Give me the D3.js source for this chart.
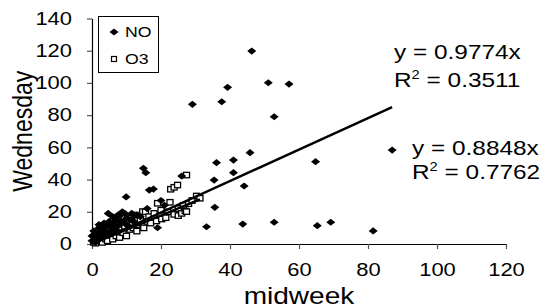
<!DOCTYPE html>
<html>
<head>
<meta charset="utf-8">
<script src="https://cdn.jsdelivr.net/npm/d3@7"></script>
<style>
  body { margin: 0; background: #fff; }
  text { font-family: "Liberation Sans", Arial, sans-serif; fill: #000; }
</style>
</head>
<body>
<div id="chart"></div>
<script>
// NO readings: [midweek, Wednesday]
var noPoints = [
  [0,2],[0,5],[0.5,8],[1,1],[1,4],[1.5,6],[2,10],[2,3],[2.5,7],[3,11],[3,5],[3.5,9],
  [4,8],[4.7,19],[4.5,12],[5,6],[5,14],[5.5,10],[6,13],[6,17],[6.5,8],[7,15],[7,11],
  [7.5,18],[8.1,17.6],[8,12],[8.5,14],[9.7,18.7],[9.5,13],[9.9,29.2],[10,16],[10.5,11],
  [11,15],[12.2,17.6],[12,14],[13,18],[14,17],[14.9,47],[15.6,44.3],[16,22],[16.6,33.5],
  [17.8,34.1],[19,10.1],[20,27],[21,24],[26,42.2],[29.1,86.7],[33.2,10.7],[35.4,39.7],
  [35.6,22.8],[36.1,50.5],[37.6,88.3],[39.3,97.3],[41,52.1],[41,44.3],[43.7,12.4],
  [44.1,36],[45.8,56.7],[46.3,119.8],[51.1,100.1],[52.8,79],[52.8,13.5],[57.1,99.3],
  [64.8,51.1],[65.3,11.4],[69.2,13.5],[81.5,8.1],[87,58.3],
  [2,12],[3.5,13],[6.5,16],[8.8,20],[11.5,19],[7,9],[4,6]
];

// O3 readings: [midweek, Wednesday]
var o3Points = [
  [0.5,1],[1,0.5],[1,3],[1.5,5],[2,2],[2,7],[2.5,4],[3,1],[3,9],[3.5,6],[4,3],[4.5,2],
  [5,6],[5,10],[6,4],[6,3],[6.5,8],[7,12],[7,5],[8,4],[8,9],[8.5,13],[9,7],[9.5,11],
  [10,5],[10,14],[11,9],[11.5,16],[12,10],[12.5,18],[13,12],[13,8],[14,15],[14.7,20.1],
  [15,10],[15.5,20],[16,14],[16.5,17],[17,13],[18,19],[18.7,14.3],[19,25.3],[20.2,15.5],
  [20,21],[21.4,16.3],[22,20],[22.6,25.9],[22.8,34],[23.8,35.2],[24.8,36.6],[23.8,18.4],
  [25,17.6],[25,22],[26,19],[26.5,24],[27,20.5],[27.4,42.8],[28,25],[29,27],[30.3,29.8],
  [31.3,28.4],[27.4,20.1]
];

var xTicks = [0, 20, 40, 60, 80, 100, 120];
var yTicks = [0, 20, 40, 60, 80, 100, 120, 140];

// trendlines forced through origin
var trends = [
  { name: "NO", slope: 0.9774, r2: "0.3511", xMax: 87 },
  { name: "O3", slope: 0.8848, r2: "0.7762", xMax: 31.3 }
];

var W = 544, H = 308;
var stretch = 1.22; // text in the original is a bit wide

var svg = d3.select("#chart").append("svg")
    .attr("width", W)
    .attr("height", H);

var x = d3.scaleLinear().domain([0, 120]).range([92, 506]);
var y = d3.scaleLinear().domain([0, 140]).range([244, 18.5]);

// axes
var yAxis = svg.append("g")
    .attr("transform", "translate(" + x(0) + ",0)")
    .call(d3.axisLeft(y).tickValues(yTicks).tickSize(5).tickSizeOuter(0).tickPadding(15));
var xAxis = svg.append("g")
    .attr("transform", "translate(0," + y(0) + ")")
    .call(d3.axisBottom(x).tickValues(xTicks).tickSize(5).tickSizeOuter(0).tickPadding(14));

[yAxis, xAxis].forEach(function(g) {
  g.select(".domain").attr("stroke", "#000").attr("stroke-width", 1.2);
  g.selectAll(".tick line").attr("stroke", "#555").attr("stroke-width", 1.2);
  g.selectAll(".tick text")
      .style("font-family", "Liberation Sans, Arial, sans-serif")
      .style("font-size", "18px")
      .attr("fill", "#000");
});

yAxis.selectAll(".tick text").each(function() {
  var t = d3.select(this);
  var tx = +t.attr("x");
  t.attr("x", 0).attr("transform", "translate(" + tx + ",0) scale(" + stretch + ",1)");
});
xAxis.selectAll(".tick text").each(function() {
  var t = d3.select(this);
  var ty = +t.attr("y");
  t.attr("y", 0).attr("transform", "translate(0," + ty + ") scale(" + stretch + ",1)");
});

// axis titles
svg.append("text")
    .attr("transform", "translate(" + ((x(0) + x(120)) / 2) + ",304) scale(" + stretch + ",1)")
    .attr("text-anchor", "middle")
    .style("font-size", "23px")
    .text("midweek");

svg.append("text")
    .attr("transform", "translate(32," + ((y(0) + y(140)) / 2) + ") rotate(-90) scale(1," + stretch + ")")
    .attr("text-anchor", "middle")
    .style("font-size", "23px")
    .text("Wednesday");

// markers
var diamond = "M-4.5,0L0,-3.6L4.5,0L0,3.6Z";

svg.append("g").selectAll("rect")
    .data(o3Points)
    .enter().append("rect")
    .attr("x", function(d) { return x(d[0]) - 3; })
    .attr("y", function(d) { return y(d[1]) - 2.7; })
    .attr("width", 6)
    .attr("height", 5.4)
    .attr("fill", "#fff")
    .attr("stroke", "#000")
    .attr("stroke-width", 1.3);

svg.append("g").selectAll("path")
    .data(noPoints)
    .enter().append("path")
    .attr("d", diamond)
    .attr("transform", function(d) { return "translate(" + x(d[0]) + "," + y(d[1]) + ")"; })
    .attr("fill", "#000");

// trendlines
svg.append("g").selectAll("line")
    .data(trends)
    .enter().append("line")
    .attr("x1", x(0))
    .attr("y1", y(0))
    .attr("x2", function(d) { return x(d.xMax); })
    .attr("y2", function(d) { return y(d.slope * d.xMax); })
    .attr("stroke", "#000")
    .attr("stroke-width", 2.4);

// trendline equations
var eqPos = [[394, 59, 87], [412, 155, 179]];
trends.forEach(function(t, i) {
  var p = eqPos[i];
  svg.append("text")
      .attr("transform", "translate(" + p[0] + "," + p[1] + ") scale(" + stretch + ",1)")
      .style("font-size", "20px")
      .text("y = " + t.slope + "x");
  var r = svg.append("text")
      .attr("transform", "translate(" + p[0] + "," + p[2] + ") scale(" + stretch + ",1)")
      .style("font-size", "20px");
  r.append("tspan").text("R");
  r.append("tspan").attr("dy", -8).style("font-size", "12px").text("2");
  r.append("tspan").attr("dy", 8).text(" = " + t.r2);
});

// legend
var legend = svg.append("g");
legend.append("rect")
    .attr("x", 98.5).attr("y", 16.5)
    .attr("width", 60).attr("height", 56)
    .attr("fill", "#fff")
    .attr("stroke", "#000")
    .attr("stroke-width", 1);

legend.append("path")
    .attr("d", diamond)
    .attr("transform", "translate(114,32)")
    .attr("fill", "#000");
legend.append("rect")
    .attr("x", 111.5).attr("y", 56.5)
    .attr("width", 5).attr("height", 5)
    .attr("fill", "#fff")
    .attr("stroke", "#000")
    .attr("stroke-width", 1.2);

legend.selectAll("text.lg")
    .data(["NO", "O3"])
    .enter().append("text")
    .attr("class", "lg")
    .attr("transform", function(d, i) { return "translate(125," + (37 + i * 27) + ") scale(1.18,1)"; })
    .style("font-size", "15px")
    .text(function(d) { return d; });
</script>
</body>
</html>
